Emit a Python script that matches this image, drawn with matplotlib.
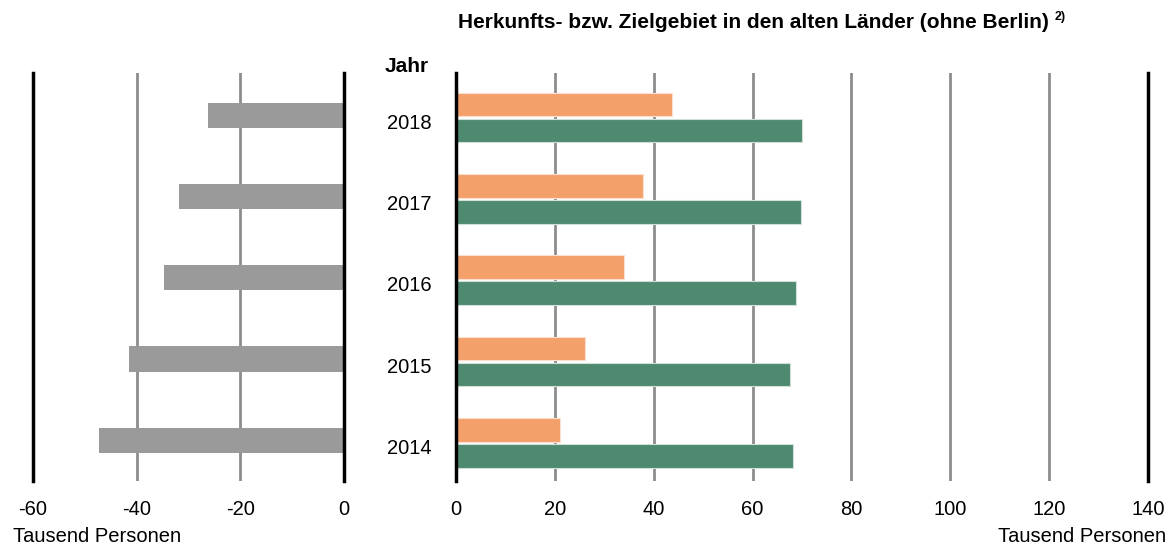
import matplotlib.pyplot as plt

plt.rcParams['font.family'] = ['Liberation Sans', 'DejaVu Sans']

years = [2014, 2015, 2016, 2017, 2018]
saldo = [-47.2, -41.4, -34.7, -31.8, -26.2]      # grey bars, left panel
zuzuege = [21.0, 26.1, 34.0, 37.9, 43.8]         # orange
fortzuege = [68.2, 67.6, 68.8, 69.8, 70.1]       # green
left_ticks = [-60, -40, -20, 0]
right_ticks = [0, 20, 40, 60, 80, 100, 120, 140]

grey = '#9a9a9a'
orange = '#f4a06b'
green = '#4e8a70'

fig = plt.figure(figsize=(11.75, 5.48), dpi=100)
W, H = 1175, 548
ax1 = fig.add_axes([33 / W, 1 - 481 / H, (344 - 33) / W, (481 - 73) / H])
ax2 = fig.add_axes([456 / W, 1 - 481 / H, (1148 - 456) / W, (481 - 73) / H])

pos = list(range(len(years)))

# left panel
ax1.barh(pos, saldo, height=0.31, color=grey, zorder=3)
for t in left_ticks:
    if t in (-60, 0):
        ax1.axvline(t, color='black', lw=2.5, zorder=4, clip_on=False)
    else:
        ax1.axvline(t, color='#8c8c8c', lw=2, zorder=1)
ax1.set_xlim(-60, 0)

# right panel
ax2.barh([p + 0.13 for p in pos], zuzuege, height=0.29, color=orange,
         edgecolor='#fbe0cf', lw=0.8, zorder=3)
ax2.barh([p - 0.19 for p in pos], fortzuege, height=0.29, color=green,
         edgecolor='#cfe0d8', lw=0.8, zorder=3)
for t in right_ticks:
    if t in (0, 140):
        ax2.axvline(t, color='black', lw=2.5, zorder=4, clip_on=False)
    else:
        ax2.axvline(t, color='#8c8c8c', lw=2, zorder=1)
ax2.set_xlim(0, 140)

for ax, ticks in ((ax1, left_ticks), (ax2, right_ticks)):
    ax.set_ylim(-0.5, 4.52)
    ax.set_yticks([])
    ax.set_xticks(ticks)
    ax.set_xticklabels([str(t) for t in ticks], fontsize=14.5)
    ax.tick_params(axis='x', length=0, pad=14)
    for s in ax.spines.values():
        s.set_visible(False)

# year labels between the panels
for p, y in zip(pos, years):
    disp = ax1.transData.transform((0, p - 0.1))
    fig.text(409 / W, disp[1] / H, str(y), ha='center', va='center', fontsize=14.5)

fig.text(407 / W, 1 - 66 / H, 'Jahr', ha='center', va='center',
         fontsize=15, fontweight='bold')

title = fig.text(458 / W, 1 - 22 / H,
                 'Herkunfts- bzw. Zielgebiet in den alten Länder (ohne Berlin)',
                 ha='left', va='center', fontsize=15, fontweight='bold')
fig.canvas.draw()
bb = title.get_window_extent()
fig.text((bb.x1 + 6) / W, 1 - 17 / H, '2)', ha='left', va='center',
         fontsize=9, fontweight='bold')

fig.text(13 / W, 1 - 537 / H, 'Tausend Personen', ha='left', va='center', fontsize=14.5)
fig.text(1166 / W, 1 - 537 / H, 'Tausend Personen', ha='right', va='center', fontsize=14.5)

fig.savefig('out.png', dpi=100)
